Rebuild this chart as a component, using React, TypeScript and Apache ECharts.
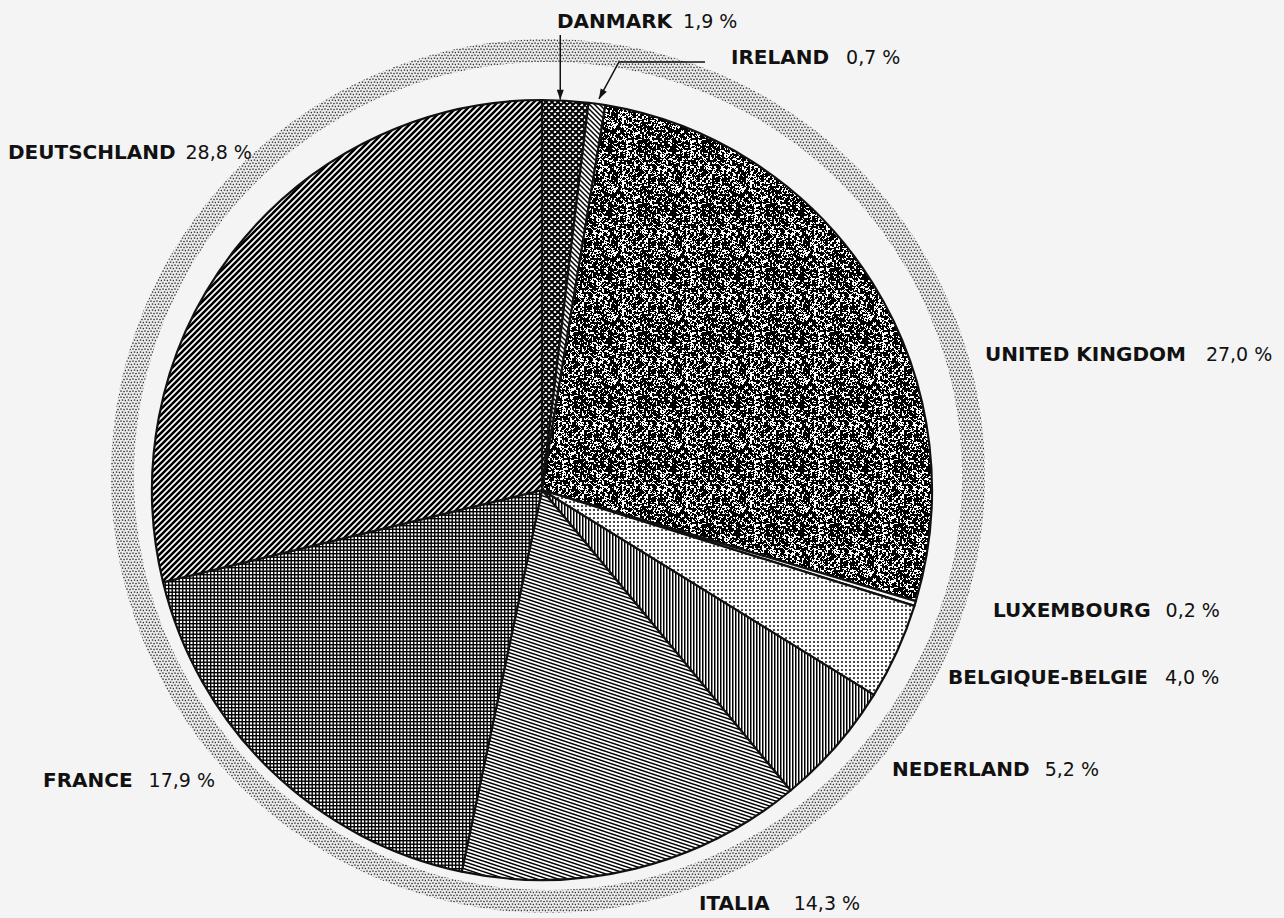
import React, { useEffect, useRef } from 'react';
import * as echarts from 'echarts';

// ---- data ----
const countries = [
  'DANMARK',
  'IRELAND',
  'UNITED KINGDOM',
  'LUXEMBOURG',
  'BELGIQUE-BELGIE',
  'NEDERLAND',
  'ITALIA',
  'FRANCE',
  'DEUTSCHLAND',
];
const shares = [1.9, 0.7, 27.0, 0.2, 4.0, 5.2, 14.3, 17.9, 28.8];

// ---- label layout (left x, middle y, gap name→value) ----
const labelX = [557, 731, 985, 993, 948, 892, 699, 43, 8];
const labelY = [21, 57, 354, 610, 677, 769, 903, 780, 152];
const labelGap = [11, 17, 20, 15, 17, 15, 24, 16, 10];

type Pat = { image: string; repeat: string; imageWidth: number; imageHeight: number };

function makePattern(w: number, h: number, draw: (ctx: CanvasRenderingContext2D) => void): Pat {
  const c = document.createElement('canvas');
  c.width = w;
  c.height = h;
  const ctx = c.getContext('2d')!;
  draw(ctx);
  return { image: c.toDataURL(), repeat: 'repeat', imageWidth: w, imageHeight: h };
}

function hash(x: number, y: number, seed: number) {
  let n = Math.imul(x, 374761393) + Math.imul(y, 668265263) + Math.imul(seed, 982451653);
  n = Math.imul(n ^ (n >>> 13), 1274126177);
  n = n ^ (n >>> 16);
  return (n >>> 0) / 4294967296;
}

function diag(s: number, lw: number, dirs: ('/' | '\\')[]): Pat {
  return makePattern(s, s, (ctx) => {
    ctx.fillStyle = '#fff';
    ctx.fillRect(0, 0, s, s);
    ctx.strokeStyle = '#000';
    ctx.lineWidth = lw;
    ctx.beginPath();
    for (const d of dirs) {
      for (let k = -2; k <= 2; k++) {
        if (d === '/') {
          ctx.moveTo(k * s - s, 2 * s);
          ctx.lineTo(k * s + 2 * s, -s);
        } else {
          ctx.moveTo(k * s - s, -s);
          ctx.lineTo(k * s + 2 * s, 2 * s);
        }
      }
    }
    ctx.stroke();
  });
}

function buildPatterns(): Pat[] {
  const danmark = diag(6, 2.0, ['/', '\\']);
  const ireland = diag(5, 1.5, ['\\']);
  const uk = makePattern(64, 64, (ctx) => {
    ctx.fillStyle = '#fff';
    ctx.fillRect(0, 0, 64, 64);
    ctx.fillStyle = '#000';
    for (let y = 0; y < 64; y++)
      for (let x = 0; x < 64; x++) {
        const a = hash(x >> 1, y >> 1, 7);
        const b = hash(x, y, 13);
        if (a * 0.55 + b * 0.45 < 0.6) ctx.fillRect(x, y, 1, 1);
      }
  });
  const lux = makePattern(4, 4, (ctx) => {
    ctx.fillStyle = '#fff';
    ctx.fillRect(0, 0, 4, 4);
  });
  const belg = makePattern(4, 4, (ctx) => {
    ctx.fillStyle = '#fff';
    ctx.fillRect(0, 0, 4, 4);
    ctx.fillStyle = '#000';
    ctx.beginPath();
    ctx.arc(2, 2, 0.95, 0, Math.PI * 2);
    ctx.fill();
  });
  const ned = makePattern(3, 3, (ctx) => {
    ctx.fillStyle = '#fff';
    ctx.fillRect(0, 0, 3, 3);
    ctx.fillStyle = '#000';
    ctx.fillRect(0, 0, 1.5, 3);
  });
  const ita = makePattern(21, 7, (ctx) => {
    ctx.fillStyle = '#fff';
    ctx.fillRect(0, 0, 21, 7);
    ctx.strokeStyle = '#000';
    ctx.lineWidth = 1.5;
    ctx.beginPath();
    for (let k = -4; k <= 4; k++) {
      ctx.moveTo(-3, -1 + k * 3.5);
      ctx.lineTo(24, 8 + k * 3.5);
    }
    ctx.stroke();
  });
  const fra = makePattern(7, 7, (ctx) => {
    ctx.fillStyle = '#fff';
    ctx.fillRect(0, 0, 7, 7);
    ctx.fillStyle = '#000';
    ctx.fillRect(0, 0, 7, 1.4);
    ctx.fillRect(0, 3.5, 7, 1.4);
    ctx.fillRect(0, 0, 1.4, 7);
    ctx.fillRect(3.5, 0, 1.4, 7);
  });
  const deu = diag(6, 2.6, ['/']);
  return [danmark, ireland, uk, lux, belg, ned, ita, fra, deu];
}

function ringPattern(): Pat {
  return makePattern(6, 6, (ctx) => {
    ctx.fillStyle = '#ececec';
    ctx.fillRect(0, 0, 6, 6);
    ctx.fillStyle = '#333';
    const pts = [
      [1, 1],
      [4, 1.5],
      [2.5, 4],
      [5.5, 4.5],
    ];
    for (const [x, y] of pts) {
      ctx.beginPath();
      ctx.arc(x, y, 0.85, 0, Math.PI * 2);
      ctx.fill();
    }
  });
}

const fmtValue = (v: number) => v.toFixed(1).replace('.', ',') + ' %';

export default function App() {
  const ref = useRef<HTMLDivElement>(null);

  useEffect(() => {
    const el = ref.current!;
    const chart = echarts.init(el, undefined, { renderer: 'svg', width: 1284, height: 918 });
    const patterns = buildPatterns();

    const cx = 542;
    const cy = 490;
    const R = 390;
    const total = shares.reduce((a, b) => a + b, 0);
    let cum = 0;
    const mids = shares.map((v) => {
      const m = (cum + v / 2) / total;
      cum += v;
      return m * Math.PI * 2;
    });
    const edge = (i: number) => [cx + R * Math.sin(mids[i]), cy - R * Math.cos(mids[i])];

    const leader: Record<number, number[][]> = {};
    const dk = edge(0);
    leader[0] = [
      [dk[0] - 5, labelY[0] + 14],
      [dk[0] - 5, (labelY[0] + 14 + dk[1]) / 2],
      [dk[0] - 5, dk[1] - 1],
    ];
    const ie = edge(1);
    leader[1] = [
      [labelX[1] - 26, labelY[1] + 5],
      [ie[0] + 22, labelY[1] + 5],
      [ie[0] + 2, ie[1] - 5],
    ];

    const arrow = (pts: number[][]) => {
      const q = pts[pts.length - 2];
      const p = pts[pts.length - 1];
      const dx = p[0] - q[0];
      const dy = p[1] - q[1];
      const len = Math.hypot(dx, dy);
      const ux = dx / len;
      const uy = dy / len;
      const L = 10;
      const W = 3.5;
      return {
        type: 'polygon',
        z: 100,
        silent: true,
        shape: {
          points: [
            p,
            [p[0] - ux * L - uy * W, p[1] - uy * L + ux * W],
            [p[0] - ux * L + uy * W, p[1] - uy * L - ux * W],
          ],
        },
        style: { fill: '#111' },
      };
    };

    chart.setOption({
      animation: false,
      backgroundColor: '#f4f4f4',
      graphic: [arrow(leader[0]), arrow(leader[1])],
      series: [
        {
          type: 'pie',
          silent: true,
          center: [548, 476],
          radius: [414, 437],
          z: 1,
          label: { show: false },
          labelLine: { show: false },
          itemStyle: { borderWidth: 0 },
          data: [{ value: 1, name: 'ring', itemStyle: { color: ringPattern() } }],
        },
        {
          type: 'pie',
          silent: true,
          z: 2,
          center: [cx, cy],
          radius: [0, R],
          startAngle: 90,
          clockwise: true,
          avoidLabelOverlap: false,
          itemStyle: { borderColor: '#111', borderWidth: 2.2 },
          label: {
            show: true,
            position: 'outside',
            formatter: (p: any) => `{n|${p.name}}{v|${fmtValue(p.value)}}`,
            rich: {
              n: { fontFamily: 'DejaVu Sans', fontWeight: 'bold', fontSize: 20, color: '#111' },
              v: { fontFamily: 'DejaVu Sans', fontSize: 19, color: '#111' },
            },
          },
          labelLine: { show: true, lineStyle: { color: '#111', width: 1.5 } },
          labelLayout: (params: any) => {
            const i = params.dataIndex;
            const out: any = { x: labelX[i], y: labelY[i], align: 'left', verticalAlign: 'middle' };
            if (leader[i]) out.labelLinePoints = leader[i];
            return out;
          },
          data: countries.map((name, i) => ({
            name,
            value: shares[i],
            itemStyle: { color: patterns[i] },
            labelLine: { show: i < 2 },
            label: { rich: { v: { padding: [0, 0, 0, labelGap[i]] } } },
          })),
        },
      ],
    });

    return () => chart.dispose();
  }, []);

  return (
    <div
      ref={ref}
      style={{ position: 'fixed', left: 0, top: 0, width: 1284, height: 918, background: '#f4f4f4' }}
    />
  );
}
